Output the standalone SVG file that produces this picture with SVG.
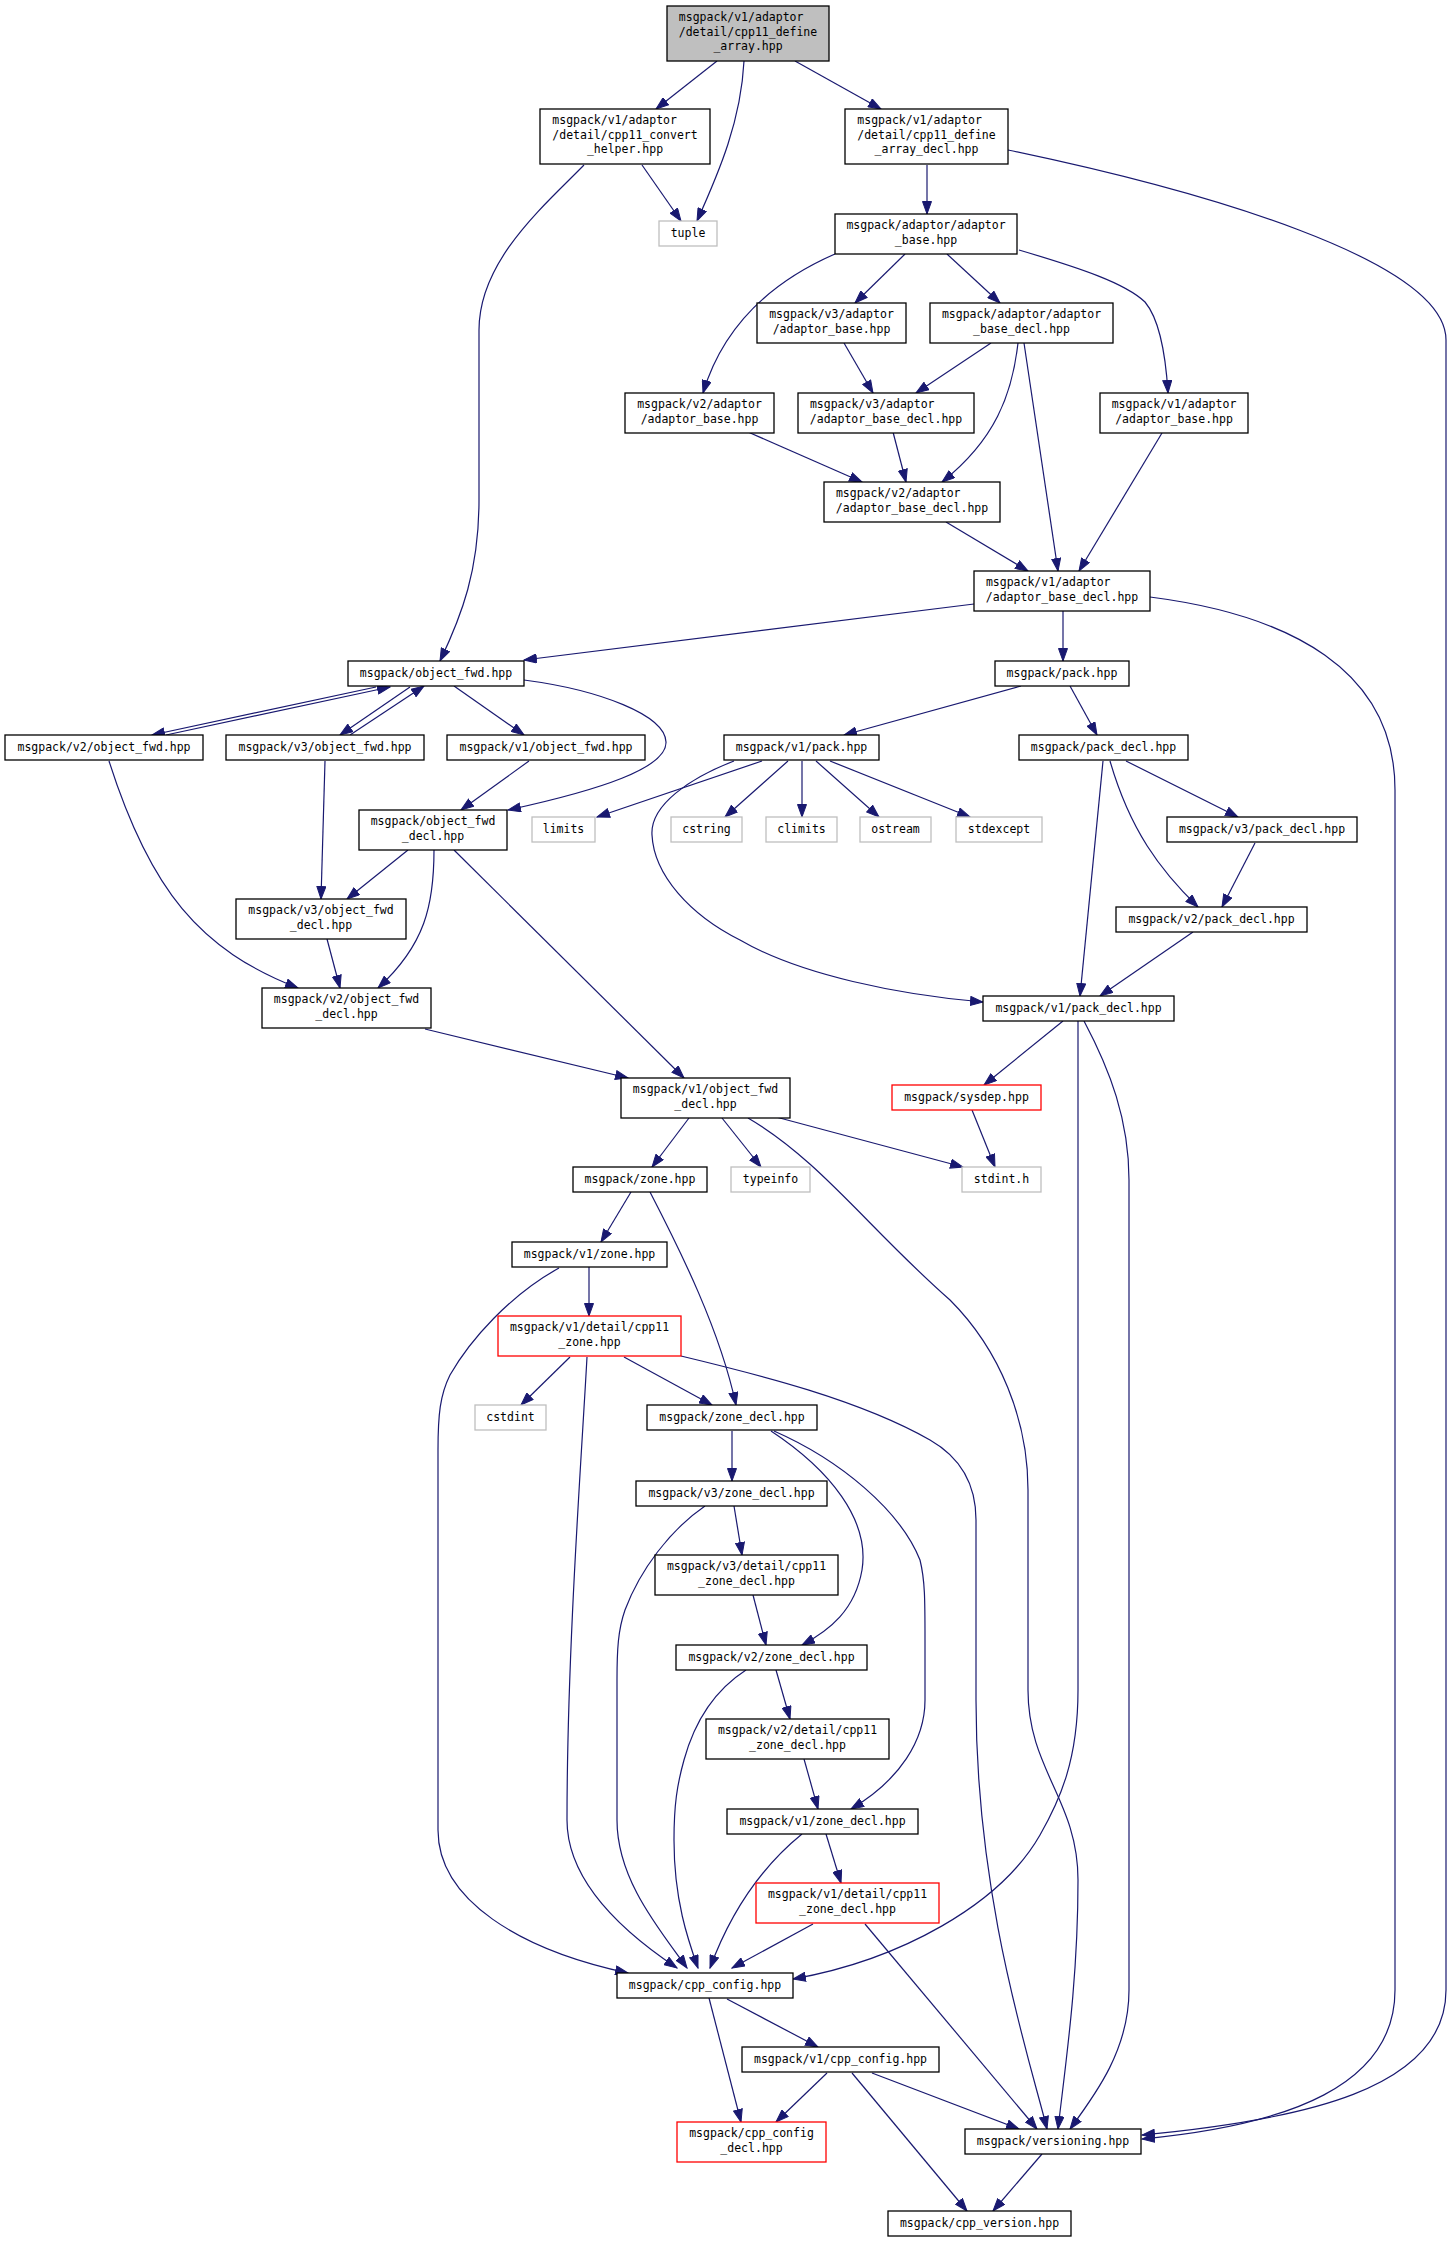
<svg xmlns="http://www.w3.org/2000/svg" width="1452" height="2243" viewBox="0 0 1452 2243">
<style>
.n rect{fill:#fff;stroke:#000;stroke-width:1.3}
.n.root rect{fill:#bfbfbf}
.n.ext rect{stroke:#bfbfbf}
.n.red rect{stroke:#ff0000}
text{font-family:"DejaVu Sans Mono","Liberation Mono",monospace;font-size:11.5px;fill:#000;text-anchor:middle}
text.l{text-anchor:start}
#edges path{fill:none;stroke:#191970;stroke-width:1.2;marker-end:url(#arr)}
</style>
<defs>
<marker id="arr" markerUnits="userSpaceOnUse" markerWidth="14" markerHeight="10" refX="13" refY="5" orient="auto" viewBox="0 0 14 10">
<path d="M0.5,0.5 L13,5 L0.5,9.5 z" fill="#191970" stroke="#191970" stroke-width="1"/>
</marker>
</defs>
<rect x="0" y="0" width="1452" height="2243" fill="#fff"/>
<g id="edges">
<path d="M717,61 L656,109"/>
<path d="M744,61 C741,120 720,170 697,221"/>
<path d="M795,61 L881,109"/>
<path d="M642,165 L681,221"/>
<path d="M584,165 C545,205 479,260 479,330 L479,500 C479,570 462,615 440,661"/>
<path d="M927,165 L927,214"/>
<path d="M1008,150 C1200,190 1446,260 1446,340 L1446,1990 C1446,2090 1300,2120 1142,2135"/>
<path d="M905,254 L855,303"/>
<path d="M947,254 L1000,303"/>
<path d="M835,254 C780,278 725,320 703,393"/>
<path d="M1019,250 C1080,268 1125,283 1145,302 C1160,320 1166,360 1168,393"/>
<path d="M844,343 L873,393"/>
<path d="M991,343 L916,393"/>
<path d="M1018,343 C1012,395 995,440 942,482"/>
<path d="M1024,343 L1058,571"/>
<path d="M748,432 L862,482"/>
<path d="M893,432 L906,482"/>
<path d="M1162,433 L1079,571"/>
<path d="M946,522 L1028,571"/>
<path d="M974,604 L524,660"/>
<path d="M1063,611 L1063,661"/>
<path d="M1150,597 C1290,615 1395,670 1395,790 L1395,1990 C1395,2085 1290,2125 1142,2139"/>
<path d="M1021,686 L844,735"/>
<path d="M1070,686 L1097,735"/>
<path d="M376,687 L152,735"/>
<path d="M166,735 L390,687"/>
<path d="M410,687 L340,735"/>
<path d="M350,735 L424,686"/>
<path d="M454,686 L524,735"/>
<path d="M524,680 C600,690 665,715 666,742 C667,768 600,790 508,810"/>
<path d="M109,761 C150,890 200,950 298,988"/>
<path d="M325,761 L321,899"/>
<path d="M529,761 L461,810"/>
<path d="M762,761 L597,817"/>
<path d="M734,761 C690,778 650,805 652,835 C654,875 690,915 740,940 C800,975 900,995 983,1002"/>
<path d="M788,761 L725,817"/>
<path d="M802,761 L802,817"/>
<path d="M816,761 L879,817"/>
<path d="M830,761 L970,817"/>
<path d="M1126,761 L1238,817"/>
<path d="M1110,761 C1130,830 1160,870 1198,907"/>
<path d="M1103,761 L1080,996"/>
<path d="M1255,843 L1222,907"/>
<path d="M1193,932 L1100,996"/>
<path d="M408,850 L347,899"/>
<path d="M434,850 C434,905 425,945 378,988"/>
<path d="M454,850 L684,1078"/>
<path d="M327,939 L340,988"/>
<path d="M425,1029 L628,1078"/>
<path d="M1063,1021 L984,1085"/>
<path d="M1078,1021 L1078,1690 C1078,1760 1060,1800 1040,1835 C1000,1905 900,1960 793,1979"/>
<path d="M748,1118 C820,1160 870,1230 950,1300 C1000,1350 1028,1420 1028,1490 L1028,1690 C1028,1770 1078,1800 1078,1880 C1078,1980 1066,2060 1058,2129"/>
<path d="M1084,1021 C1110,1070 1129,1120 1129,1180 L1129,1990 C1129,2050 1095,2095 1070,2129"/>
<path d="M972,1110 L995,1167"/>
<path d="M776,1117 L963,1167"/>
<path d="M722,1118 L761,1167"/>
<path d="M689,1118 L652,1167"/>
<path d="M631,1192 L601,1242"/>
<path d="M650,1192 C680,1250 720,1330 736,1405"/>
<path d="M589,1267 L589,1316"/>
<path d="M559,1268 C510,1295 470,1340 450,1375 C440,1395 438,1415 438,1450 L438,1830 C438,1900 520,1950 628,1973"/>
<path d="M570,1357 L521,1405"/>
<path d="M624,1357 L712,1405"/>
<path d="M587,1357 C582,1450 567,1650 567,1820 C567,1880 620,1930 677,1968"/>
<path d="M681,1356 C760,1375 860,1400 930,1440 C965,1460 976,1490 976,1520 L976,1700 C976,1900 1030,2060 1047,2129"/>
<path d="M732,1431 L732,1481"/>
<path d="M771,1431 C830,1470 870,1520 862,1570 C855,1610 830,1630 802,1645"/>
<path d="M774,1431 C840,1460 900,1510 920,1560 C925,1580 925,1600 925,1640 L925,1700 C925,1740 900,1780 851,1809"/>
<path d="M734,1506 L742,1555"/>
<path d="M705,1506 C670,1530 640,1570 625,1610 C618,1630 617,1650 617,1680 L617,1820 C617,1880 660,1930 687,1968"/>
<path d="M753,1595 L766,1645"/>
<path d="M776,1670 L790,1719"/>
<path d="M746,1670 C715,1690 695,1720 684,1760 C677,1785 674,1805 674,1840 C674,1900 688,1940 698,1968"/>
<path d="M804,1759 L818,1809"/>
<path d="M826,1834 L841,1883"/>
<path d="M802,1834 C770,1860 735,1900 710,1968"/>
<path d="M813,1924 L732,1968"/>
<path d="M865,1924 L1037,2129"/>
<path d="M727,1999 L818,2047"/>
<path d="M709,1998 L741,2122"/>
<path d="M827,2073 L776,2122"/>
<path d="M872,2073 L1019,2129"/>
<path d="M852,2073 L967,2211"/>
<path d="M1042,2154 L993,2211"/>
</g>
<g id="n1" class="n root"><rect x="667" y="6" width="162" height="55"/><text class="l" x="678.8" y="20.8">msgpack/v1/adaptor</text><text x="748" y="35.6">/detail/cpp11_define</text><text x="748" y="50.4">_array.hpp</text></g>
<g id="n2" class="n"><rect x="540" y="109" width="170" height="55"/><text class="l" x="552.3" y="123.8">msgpack/v1/adaptor</text><text x="625" y="138.6">/detail/cpp11_convert</text><text x="625" y="153.4">_helper.hpp</text></g>
<g id="n3" class="n ext"><rect x="659" y="221" width="58" height="25"/><text x="688" y="236.5">tuple</text></g>
<g id="n4" class="n"><rect x="845" y="109" width="163" height="55"/><text class="l" x="857.3" y="123.8">msgpack/v1/adaptor</text><text x="926.5" y="138.6">/detail/cpp11_define</text><text x="926.5" y="153.4">_array_decl.hpp</text></g>
<g id="n5" class="n"><rect x="835" y="214" width="182" height="40"/><text x="926" y="228.8">msgpack/adaptor/adaptor</text><text x="926" y="243.6">_base.hpp</text></g>
<g id="n6" class="n"><rect x="757" y="303" width="149" height="40"/><text x="831.5" y="317.8">msgpack/v3/adaptor</text><text x="831.5" y="332.6">/adaptor_base.hpp</text></g>
<g id="n7" class="n"><rect x="930" y="303" width="183" height="40"/><text x="1021.5" y="317.8">msgpack/adaptor/adaptor</text><text x="1021.5" y="332.6">_base_decl.hpp</text></g>
<g id="n8" class="n"><rect x="625" y="393" width="149" height="40"/><text x="699.5" y="407.8">msgpack/v2/adaptor</text><text x="699.5" y="422.6">/adaptor_base.hpp</text></g>
<g id="n9" class="n"><rect x="798" y="393" width="176" height="40"/><text class="l" x="809.9" y="407.8">msgpack/v3/adaptor</text><text x="886" y="422.6">/adaptor_base_decl.hpp</text></g>
<g id="n10" class="n"><rect x="1100" y="393" width="148" height="40"/><text x="1174" y="407.8">msgpack/v1/adaptor</text><text x="1174" y="422.6">/adaptor_base.hpp</text></g>
<g id="n11" class="n"><rect x="824" y="482" width="176" height="40"/><text class="l" x="835.9" y="496.8">msgpack/v2/adaptor</text><text x="912" y="511.6">/adaptor_base_decl.hpp</text></g>
<g id="n12" class="n"><rect x="974" y="571" width="176" height="40"/><text class="l" x="985.9" y="585.8">msgpack/v1/adaptor</text><text x="1062" y="600.6">/adaptor_base_decl.hpp</text></g>
<g id="n13" class="n"><rect x="995" y="661" width="134" height="25"/><text x="1062" y="676.5">msgpack/pack.hpp</text></g>
<g id="n14" class="n"><rect x="348" y="661" width="176" height="25"/><text x="436" y="676.5">msgpack/object_fwd.hpp</text></g>
<g id="n15" class="n"><rect x="5" y="735" width="198" height="25"/><text x="104" y="750.5">msgpack/v2/object_fwd.hpp</text></g>
<g id="n16" class="n"><rect x="226" y="735" width="198" height="25"/><text x="325" y="750.5">msgpack/v3/object_fwd.hpp</text></g>
<g id="n17" class="n"><rect x="447" y="735" width="198" height="25"/><text x="546" y="750.5">msgpack/v1/object_fwd.hpp</text></g>
<g id="n18" class="n"><rect x="724" y="735" width="155" height="25"/><text x="801.5" y="750.5">msgpack/v1/pack.hpp</text></g>
<g id="n19" class="n"><rect x="1019" y="735" width="169" height="25"/><text x="1103.5" y="750.5">msgpack/pack_decl.hpp</text></g>
<g id="n20" class="n"><rect x="359" y="810" width="148" height="40"/><text x="433" y="824.8">msgpack/object_fwd</text><text x="433" y="839.6">_decl.hpp</text></g>
<g id="n21" class="n ext"><rect x="532" y="817" width="63" height="25"/><text x="563.5" y="832.5">limits</text></g>
<g id="n22" class="n ext"><rect x="671" y="817" width="71" height="25"/><text x="706.5" y="832.5">cstring</text></g>
<g id="n23" class="n ext"><rect x="766" y="817" width="71" height="25"/><text x="801.5" y="832.5">climits</text></g>
<g id="n24" class="n ext"><rect x="860" y="817" width="71" height="25"/><text x="895.5" y="832.5">ostream</text></g>
<g id="n25" class="n ext"><rect x="956" y="817" width="86" height="25"/><text x="999" y="832.5">stdexcept</text></g>
<g id="n26" class="n"><rect x="1167" y="817" width="190" height="25"/><text x="1262" y="832.5">msgpack/v3/pack_decl.hpp</text></g>
<g id="n27" class="n"><rect x="236" y="899" width="170" height="40"/><text x="321" y="913.8">msgpack/v3/object_fwd</text><text x="321" y="928.6">_decl.hpp</text></g>
<g id="n28" class="n"><rect x="1116" y="907" width="191" height="25"/><text x="1211.5" y="922.5">msgpack/v2/pack_decl.hpp</text></g>
<g id="n29" class="n"><rect x="262" y="988" width="169" height="40"/><text x="346.5" y="1002.8">msgpack/v2/object_fwd</text><text x="346.5" y="1017.6">_decl.hpp</text></g>
<g id="n30" class="n"><rect x="983" y="996" width="191" height="25"/><text x="1078.5" y="1011.5">msgpack/v1/pack_decl.hpp</text></g>
<g id="n31" class="n"><rect x="621" y="1078" width="169" height="40"/><text x="705.5" y="1092.8">msgpack/v1/object_fwd</text><text x="705.5" y="1107.6">_decl.hpp</text></g>
<g id="n32" class="n red"><rect x="892" y="1085" width="149" height="25"/><text x="966.5" y="1100.5">msgpack/sysdep.hpp</text></g>
<g id="n33" class="n ext"><rect x="731" y="1167" width="79" height="25"/><text x="770.5" y="1182.5">typeinfo</text></g>
<g id="n34" class="n ext"><rect x="962" y="1167" width="79" height="25"/><text x="1001.5" y="1182.5">stdint.h</text></g>
<g id="n35" class="n"><rect x="573" y="1167" width="134" height="25"/><text x="640" y="1182.5">msgpack/zone.hpp</text></g>
<g id="n36" class="n"><rect x="512" y="1242" width="155" height="25"/><text x="589.5" y="1257.5">msgpack/v1/zone.hpp</text></g>
<g id="n37" class="n red"><rect x="498" y="1316" width="183" height="40"/><text x="589.5" y="1330.8">msgpack/v1/detail/cpp11</text><text x="589.5" y="1345.6">_zone.hpp</text></g>
<g id="n38" class="n ext"><rect x="475" y="1405" width="71" height="25"/><text x="510.5" y="1420.5">cstdint</text></g>
<g id="n39" class="n"><rect x="647" y="1405" width="170" height="25"/><text x="732" y="1420.5">msgpack/zone_decl.hpp</text></g>
<g id="n40" class="n"><rect x="636" y="1481" width="191" height="25"/><text x="731.5" y="1496.5">msgpack/v3/zone_decl.hpp</text></g>
<g id="n41" class="n"><rect x="655" y="1555" width="183" height="40"/><text x="746.5" y="1569.8">msgpack/v3/detail/cpp11</text><text x="746.5" y="1584.6">_zone_decl.hpp</text></g>
<g id="n42" class="n"><rect x="676" y="1645" width="191" height="25"/><text x="771.5" y="1660.5">msgpack/v2/zone_decl.hpp</text></g>
<g id="n43" class="n"><rect x="706" y="1719" width="183" height="40"/><text x="797.5" y="1733.8">msgpack/v2/detail/cpp11</text><text x="797.5" y="1748.6">_zone_decl.hpp</text></g>
<g id="n44" class="n"><rect x="727" y="1809" width="191" height="25"/><text x="822.5" y="1824.5">msgpack/v1/zone_decl.hpp</text></g>
<g id="n45" class="n red"><rect x="756" y="1883" width="183" height="40"/><text x="847.5" y="1897.8">msgpack/v1/detail/cpp11</text><text x="847.5" y="1912.6">_zone_decl.hpp</text></g>
<g id="n46" class="n"><rect x="617" y="1973" width="176" height="25"/><text x="705" y="1988.5">msgpack/cpp_config.hpp</text></g>
<g id="n47" class="n"><rect x="742" y="2047" width="197" height="25"/><text x="840.5" y="2062.5">msgpack/v1/cpp_config.hpp</text></g>
<g id="n48" class="n red"><rect x="677" y="2122" width="149" height="40"/><text x="751.5" y="2136.8">msgpack/cpp_config</text><text x="751.5" y="2151.6">_decl.hpp</text></g>
<g id="n49" class="n"><rect x="965" y="2129" width="176" height="25"/><text x="1053" y="2144.5">msgpack/versioning.hpp</text></g>
<g id="n50" class="n"><rect x="888" y="2211" width="183" height="25"/><text x="979.5" y="2226.5">msgpack/cpp_version.hpp</text></g>
</svg>
